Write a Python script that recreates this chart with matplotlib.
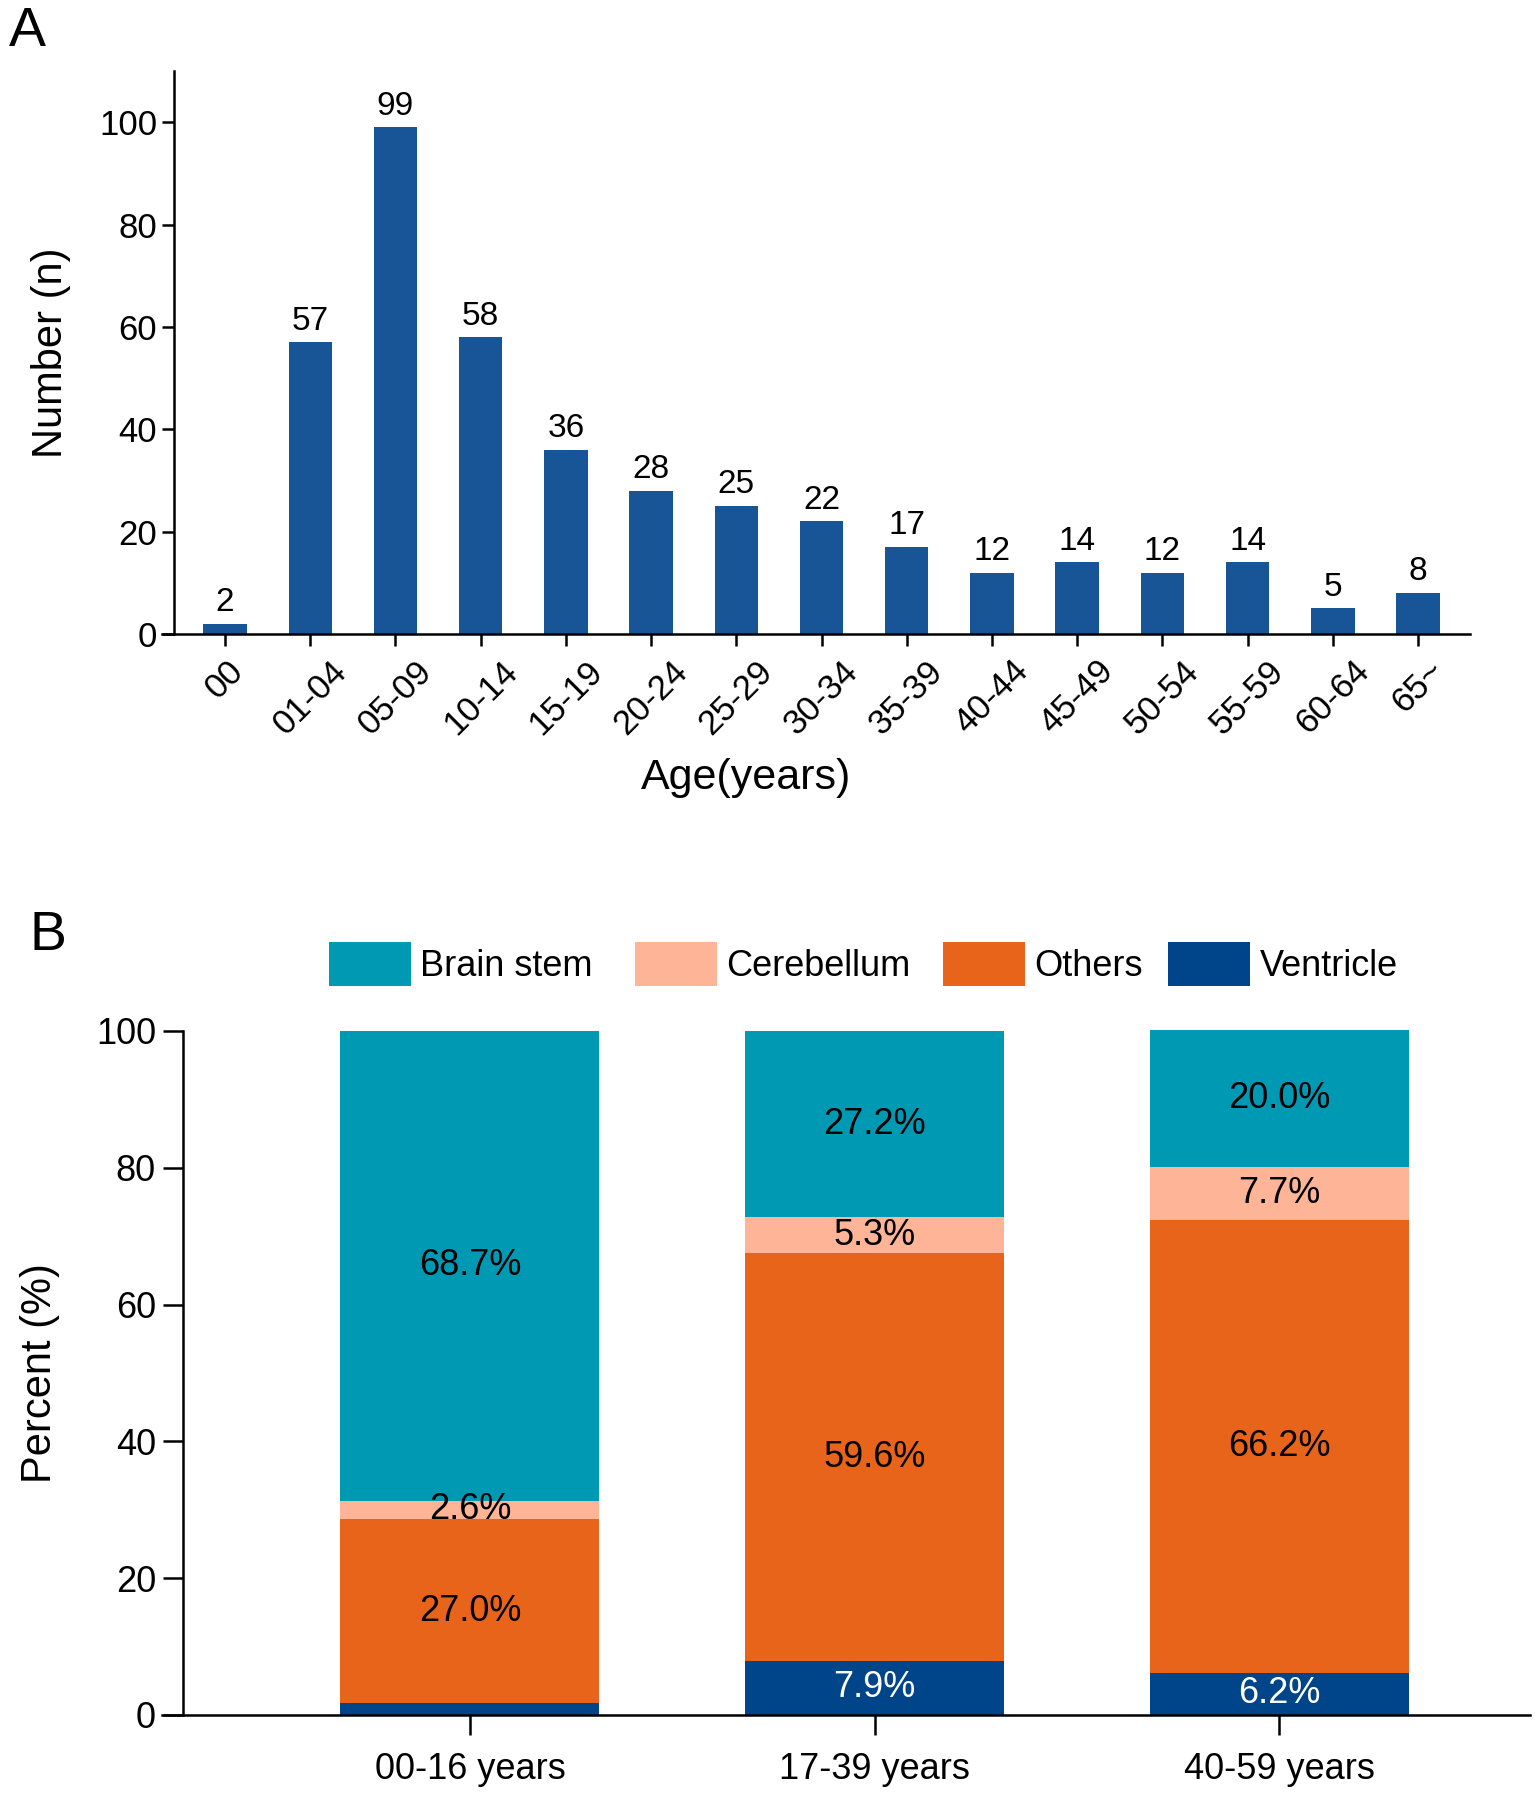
import numpy as np
import matplotlib
matplotlib.use("Agg")
import matplotlib.pyplot as plt

plt.rcParams['font.family'] = ['Liberation Sans', 'DejaVu Sans']

# Panel A data: number of cases per age group
ages = ['00', '01-04', '05-09', '10-14', '15-19', '20-24', '25-29', '30-34',
        '35-39', '40-44', '45-49', '50-54', '55-59', '60-64', '65~']
counts = [2, 57, 99, 58, 36, 28, 25, 22, 17, 12, 14, 12, 14, 5, 8]

# Panel B data: location percent per age band
groups = ['00-16 years', '17-39 years', '40-59 years']
ventricle = [1.7, 7.9, 6.2]
others = [27.0, 59.6, 66.2]
cerebellum = [2.6, 5.3, 7.7]
brain_stem = [68.7, 27.2, 20.0]
ventricle_labels = ['', '7.9%', '6.2%']

bar_blue = '#175597'
c_stem = '#0099B4'
c_cereb = '#FDB497'
c_others = '#E8641A'
c_vent = '#00448A'

W, H = 1535, 1793
fig = plt.figure(figsize=(W / 100, H / 100), dpi=100)

# ---------------- Panel A ----------------
# x axis line starts a little left of the y axis (GraphPad style)
axA = fig.add_axes([162 / W, 1 - 634 / H, (1470 - 162) / W, (634 - 71) / H])
x = np.arange(len(ages))
bars = axA.bar(x, counts, width=0.51, color=bar_blue, edgecolor='none')
axA.bar_label(bars, labels=[str(c) for c in counts], padding=4, fontsize=24)
axA.set_xlim(-0.74, 14.61)
axA.set_ylim(0, 110)
axA.set_yticks([0, 20, 40, 60, 80, 100])
axA.set_xticks(x)
axA.set_xticklabels(ages, rotation=45, ha='center', va='top')
axA.tick_params(axis='both', labelsize=25, width=1.8, length=8.6, direction='out')
axA.tick_params(axis='x', length=8.6, pad=6)
for s in ['top', 'right']:
    axA.spines[s].set_visible(False)
for s in ['left', 'bottom']:
    axA.spines[s].set_linewidth(1.8)
axA.spines['left'].set_position(('axes', (174 - 162) / (1470 - 162)))
axA.set_ylabel('Number (n)', fontsize=30)
axA.yaxis.set_label_coords(-0.0696, 0.5)
axA.set_xlabel('Age(years)', fontsize=31)
axA.xaxis.set_label_coords(0.4465, -0.2205)

fig.text(9 / W, 1 - 6 / H, 'A', fontsize=40, ha='left', va='top')

# ---------------- Panel B ----------------
axB = fig.add_axes([162 / W, 1 - 1715 / H, (1530 - 162) / W, (1715 - 1031) / H])
xb = np.arange(len(groups))
bw = 0.64
bottom = np.zeros(len(groups))
layers = [
    (ventricle, c_vent, 'Ventricle'),
    (others, c_others, 'Others'),
    (cerebellum, c_cereb, 'Cerebellum'),
    (brain_stem, c_stem, 'Brain stem'),
]
handles = {}
for vals, col, name in layers:
    vals = np.array(vals)
    b = axB.bar(xb, vals, bw, bottom=bottom, color=col, edgecolor='none',
                clip_on=False, label=name)
    handles[name] = b
    for i, v in enumerate(vals):
        if name == 'Ventricle':
            txt = ventricle_labels[i]
            tc = 'white'
        else:
            txt = f'{v:.1f}%'
            tc = 'black'
        if txt:
            axB.text(xb[i], bottom[i] + v / 2, txt, ha='center', va='center',
                     fontsize=26, color=tc)
    bottom = bottom + vals

axB.set_xlim(-0.761, 2.62)
axB.set_ylim(0, 100)
axB.set_yticks([0, 20, 40, 60, 80, 100])
axB.set_xticks(xb)
axB.set_xticklabels(groups)
axB.tick_params(axis='both', labelsize=26, width=1.8, direction='out')
axB.tick_params(axis='y', length=14.5, pad=5)
axB.tick_params(axis='x', length=14.4, pad=12)
for s in ['top', 'right']:
    axB.spines[s].set_visible(False)
for s in ['left', 'bottom']:
    axB.spines[s].set_linewidth(1.8)
axB.spines['left'].set_position(('axes', (183 - 162) / (1530 - 162)))
axB.set_ylabel('Percent (%)', fontsize=30)
axB.yaxis.set_label_coords(-0.0746, 0.5)

# legend entries placed one by one along the top
order = ['Brain stem', 'Cerebellum', 'Others', 'Ventricle']
legend_x = [329, 635, 943, 1168]
for name, lx in zip(order, legend_x):
    fig.legend([handles[name]], [name], loc='center left',
               bbox_to_anchor=(lx / W, 1 - 964 / H), frameon=False,
               fontsize=26, handlelength=2.28, handleheight=1.5,
               handletextpad=0.25, borderpad=0, borderaxespad=0)

fig.text(29 / W, 1 - 910 / H, 'B', fontsize=40, ha='left', va='top')

fig.savefig('out.png', dpi=100)
